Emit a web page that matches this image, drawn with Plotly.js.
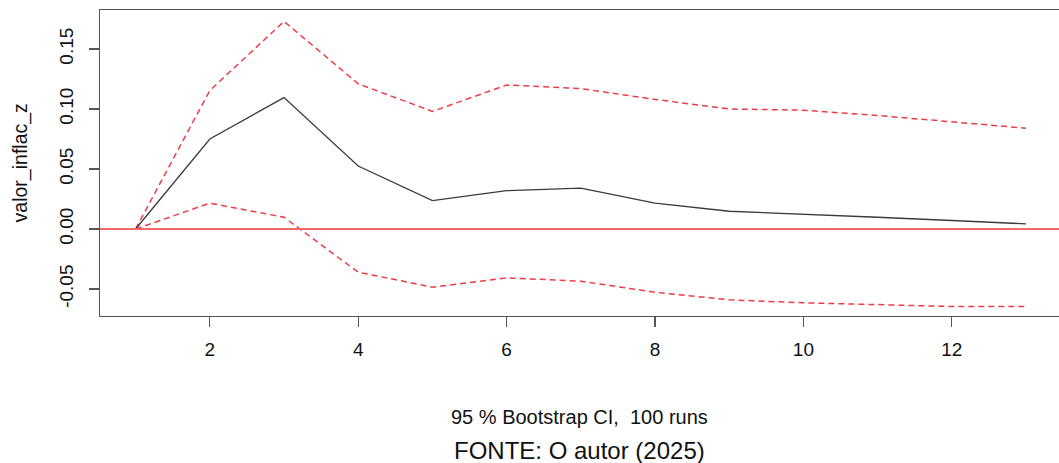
<!DOCTYPE html>
<html>
<head>
<meta charset="utf-8">
<script src="https://cdn.plot.ly/plotly-3.0.1.min.js"></script>
<style>html,body{margin:0;padding:0;background:#fff;}#chart{width:1059px;height:463px;}</style>
</head>
<body>
<div id="chart"></div>
<script>
const horizon = [1,2,3,4,5,6,7,8,9,10,11,12,13];
const irf   = [0, 0.075, 0.1095, 0.0525, 0.0236, 0.032, 0.034, 0.0215, 0.0148, 0.012, 0.0098, 0.0071, 0.0043];
const upper = [0, 0.1154, 0.173, 0.121, 0.098, 0.120, 0.117, 0.108, 0.100, 0.099, 0.0946, 0.0896, 0.084];
const lower = [0, 0.0215, 0.0098, -0.036, -0.0485, -0.0407, -0.0435, -0.0527, -0.059, -0.0615, -0.063, -0.0646, -0.0646];
const xTicks = [2,4,6,8,10,12];
const yTicks = [-0.05, 0.00, 0.05, 0.10, 0.15];
const yTickText = ["-0.05","0.00","0.05","0.10","0.15"];

const font = "Liberation Sans, Arial, sans-serif";
const red = "#ee3d48";
const ink = "#111";

const traces = [
  {x: horizon, y: upper, mode: "lines", line: {color: red, width: 1.5, dash: "6px,4px"}, hoverinfo: "skip"},
  {x: horizon, y: lower, mode: "lines", line: {color: red, width: 1.5, dash: "6px,4px"}, hoverinfo: "skip"},
  {x: horizon, y: irf, mode: "lines", line: {color: "#3a3a3a", width: 1.3}, hoverinfo: "skip"}
];

const layout = {
  width: 1059, height: 463,
  margin: {l: 100, r: 0, t: 10, b: 147},
  paper_bgcolor: "#fff", plot_bgcolor: "#fff",
  showlegend: false,
  font: {family: font, size: 19, color: ink},
  xaxis: {
    range: [0.52, 13.445], tickvals: xTicks, ticktext: xTicks.map(String),
    showgrid: false, zeroline: false, showline: true, mirror: true,
    linecolor: "#555", linewidth: 1.2, ticks: "outside", ticklen: 10, tickcolor: "#555", tickwidth: 1.2,
    tickfont: {family: font, size: 19, color: ink}, ticklabelstandoff: 6
  },
  yaxis: {
    range: [-0.0725, 0.1825], tickvals: yTicks, ticktext: yTickText,
    showgrid: false, zeroline: false, showline: true, mirror: false,
    linecolor: "#555", linewidth: 1.2, ticks: "outside", ticklen: 10, tickcolor: "#555", tickwidth: 1.2,
    tickangle: -90, tickfont: {family: font, size: 19, color: ink}, ticklabelstandoff: 8
  },
  shapes: [
    {type: "line", xref: "paper", yref: "y", x0: 0, x1: 1, y0: 0, y1: 0, line: {color: "#f26b6b", width: 2}}
  ],
  annotations: [
    {text: "valor_inflac_z", xref: "paper", yref: "paper", x: -0.083, y: 0.5, xanchor: "center", yanchor: "middle",
     textangle: -90, showarrow: false, font: {family: font, size: 19.5, color: ink}},
    {text: "95 % Bootstrap CI,  100 runs", xref: "paper", yref: "paper", x: 0.5, y: 0, yshift: -101, xanchor: "center", yanchor: "middle",
     showarrow: false, font: {family: font, size: 20, color: ink}},
    {text: "FONTE: O autor (2025)", xref: "paper", yref: "paper", x: 0.5, y: 0, yshift: -134, xanchor: "center", yanchor: "middle",
     showarrow: false, font: {family: font, size: 24, color: ink}}
  ]
};

Plotly.newPlot("chart", traces, layout, {staticPlot: true, displayModeBar: false});
</script>
</body>
</html>
